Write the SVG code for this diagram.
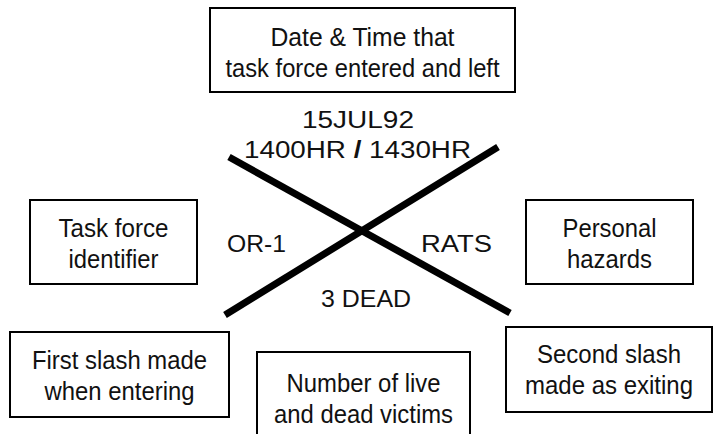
<svg xmlns="http://www.w3.org/2000/svg" width="714" height="434" viewBox="0 0 714 434">
<style>
.box{fill:#fff;stroke:#000;stroke-width:2}
.t{font-family:"Liberation Sans",Arial,sans-serif;font-size:26px;fill:#111;text-anchor:middle}
.m{font-family:"Liberation Sans",Arial,sans-serif;font-size:23px;fill:#111}
.x{stroke:#000;stroke-width:7;stroke-linecap:butt}
</style>
<rect width="714" height="434" fill="#fff"/>
<g id="connectors">
<line class="x" x1="229" y1="157" x2="510" y2="313"/>
<line class="x" x1="225" y1="315" x2="498" y2="147"/>
</g>
<g id="labels">
<text class="m" x="302" y="128" textLength="112" lengthAdjust="spacingAndGlyphs">15JUL92</text>
<text class="m" x="244" y="158" textLength="227" lengthAdjust="spacingAndGlyphs">1400HR <tspan font-weight="bold">/</tspan> 1430HR</text>
<text class="m" x="227" y="252" textLength="59" lengthAdjust="spacingAndGlyphs">OR-1</text>
<text class="m" x="421" y="252" textLength="71" lengthAdjust="spacingAndGlyphs">RATS</text>
<text class="m" x="321" y="307" textLength="90" lengthAdjust="spacingAndGlyphs">3 DEAD</text>
</g>
<g id="node-datetime">
<rect class="box" x="210" y="8" width="305" height="84"/>
<text class="t" x="362.5" y="46" textLength="184" lengthAdjust="spacingAndGlyphs">Date &amp; Time that</text>
<text class="t" x="362.5" y="77" textLength="274" lengthAdjust="spacingAndGlyphs">task force entered and left</text>
</g>
<g id="node-taskforce">
<rect class="box" x="30" y="200" width="167" height="84"/>
<text class="t" x="113.5" y="237" textLength="110" lengthAdjust="spacingAndGlyphs">Task force</text>
<text class="t" x="113.5" y="268" textLength="90" lengthAdjust="spacingAndGlyphs">identifier</text>
</g>
<g id="node-hazards">
<rect class="box" x="526" y="200" width="167" height="84"/>
<text class="t" x="609.5" y="237" textLength="94" lengthAdjust="spacingAndGlyphs">Personal</text>
<text class="t" x="609.5" y="268" textLength="85" lengthAdjust="spacingAndGlyphs">hazards</text>
</g>
<g id="node-first">
<rect class="box" x="10" y="332" width="219" height="85"/>
<text class="t" x="119.5" y="369" textLength="175" lengthAdjust="spacingAndGlyphs">First slash made</text>
<text class="t" x="119.5" y="400" textLength="150" lengthAdjust="spacingAndGlyphs">when entering</text>
</g>
<g id="node-second">
<rect class="box" x="506" y="327" width="206" height="85"/>
<text class="t" x="609" y="363" textLength="144" lengthAdjust="spacingAndGlyphs">Second slash</text>
<text class="t" x="609" y="394" textLength="168" lengthAdjust="spacingAndGlyphs">made as exiting</text>
</g>
<g id="node-victims">
<rect class="box" x="257" y="352" width="213" height="90"/>
<text class="t" x="363.5" y="392" textLength="154" lengthAdjust="spacingAndGlyphs">Number of live</text>
<text class="t" x="363.5" y="423" textLength="179" lengthAdjust="spacingAndGlyphs">and dead victims</text>
</g>
</svg>
